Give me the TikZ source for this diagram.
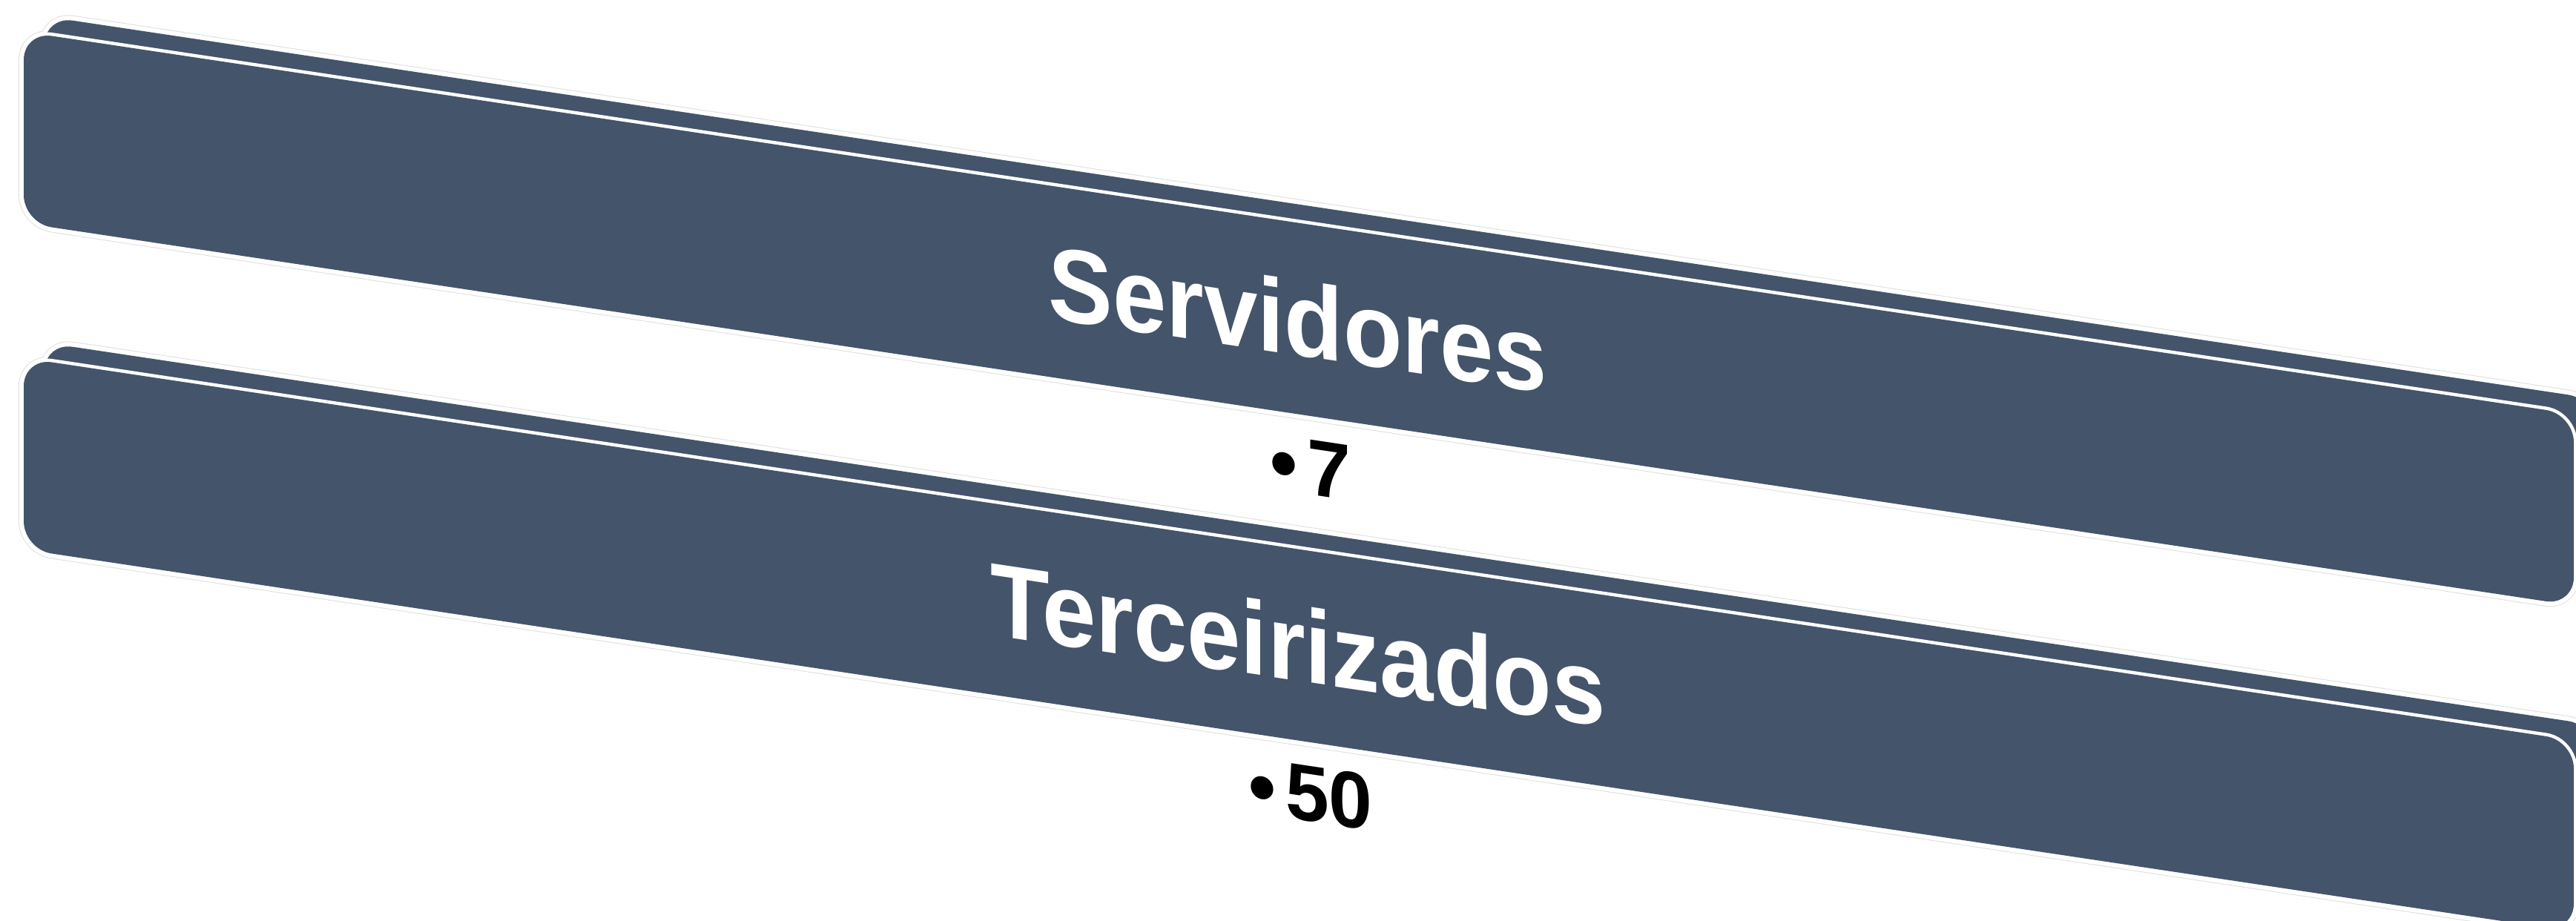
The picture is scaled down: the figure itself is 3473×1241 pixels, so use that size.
\documentclass[tikz,border=0pt]{standalone}
\usepackage{fontspec}
\setmainfont{Liberation Sans}
\usepackage{tikz}
\definecolor{slate}{HTML}{44546A}
\tikzstyle{rim}   = [draw=gray!25, line width=0.14cm, rounded corners=0.38cm]
\tikzstyle{gap}   = [draw=white, line width=0.12cm, rounded corners=0.38cm]
\tikzstyle{back}  = [fill=slate, rounded corners=0.38cm]
\tikzstyle{front} = [preaction={draw=white, line width=0.09cm}, fill=slate, rounded corners=0.38cm]
\tikzstyle{title} = [text=white, inner sep=0pt, anchor=base, yscale=1.08, font=\fontsize{37}{44}\selectfont\bfseries]
\tikzstyle{count} = [text=black, inner sep=0pt, anchor=base, yscale=1.02, font=\fontsize{30}{36}\selectfont\bfseries]

\begin{document}
\begin{tikzpicture}[x=0.01cm, y=-0.01cm]
\useasboundingbox (0,0) rectangle (3473,1241);
\clip (0,0) rectangle (3473,1241);

\begin{scope}[yslant=-0.15, transform shape]

% bands
\path [rim]   (60,13) rectangle (3500,271)  (32,38) rectangle (3470,296)
              (60,453) rectangle (3500,711) (32,478) rectangle (3470,736);
\path [gap]   (60,13) rectangle (3500,271)  (32,38) rectangle (3470,296)
              (60,453) rectangle (3500,711) (32,478) rectangle (3470,736);
\path [back]  (60,13) rectangle (3500,271);
\path [front] (32,38) rectangle (3470,296);
\path [back]  (60,453) rectangle (3500,711);
\path [front] (32,478) rectangle (3470,736);

% nodes
\node [title] at (1750,217) (serv)  {Servidores};
\node [count] at (1767,402) (servn) {•\hspace{0.12em}7};
\node [title] at (1750,656) (terc)  {Terceirizados};
\node [count] at (1767,843) (tercn) {•\hspace{0.12em}50};

\end{scope}
\end{tikzpicture}
\end{document}
